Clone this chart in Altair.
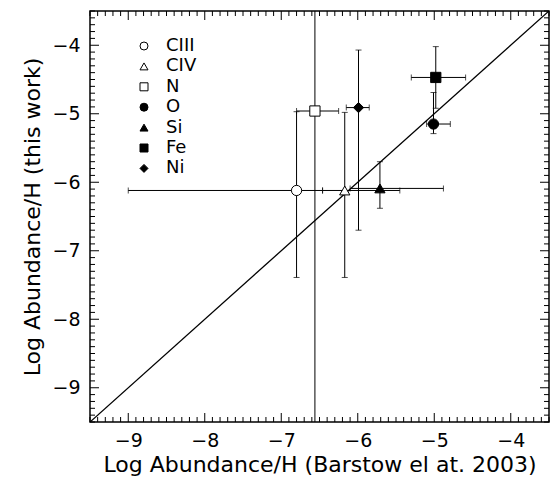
import altair as alt
import pandas as pd

# ---- data ----
elements = ["CIII", "CIV", "N", "O", "Si", "Fe", "Ni"]
x_val = [-6.80, -6.17, -6.56, -5.01, -5.71, -4.98, -5.99]
y_val = [-6.12, -6.12, -4.96, -5.15, -6.09, -4.47, -4.91]
x_lo = [-9.00, -6.46, -6.80, -5.10, -6.10, -5.30, -6.15]
x_hi = [-6.46, -5.45, -6.25, -4.79, -4.88, -4.59, -5.85]
y_lo = [-7.39, -7.39, -10.0, -5.29, -6.38, -4.92, -6.70]
y_hi = [-4.97, -4.98, -3.00, -4.69, -5.70, -4.02, -4.07]
shapes = ["circle", "triangle-up", "square", "circle", "triangle-up", "square", "diamond"]
fills = ["white", "white", "white", "black", "black", "black", "black"]
strokes = ["black"] * 7

major_ticks = [-9, -8, -7, -6, -5, -4]
minor_ticks = [i / 10 for i in range(-95, -34) if i % 10 != 0]
line_ends = [-9.5, -3.5]

W, H = 459, 411
FONT = "DejaVu Sans"
XTITLE = "Log Abundance/H (Barstow el at. 2003)"
YTITLE = "Log Abundance/H (this work)"

df = pd.DataFrame({"el": elements, "x": x_val, "y": y_val,
                   "xlo": x_lo, "xhi": x_hi, "ylo": y_lo, "yhi": y_hi})
diag = pd.DataFrame({"x": line_ends, "y": line_ends})
maj = pd.DataFrame({"v": major_ticks})
mnr = pd.DataFrame({"v": minor_ticks})

xs = alt.Scale(domain=[-9.5, -3.5], nice=False, zero=False)
ys = alt.Scale(domain=[-9.5, -3.5], nice=False, zero=False)
xaxis = alt.Axis(values=major_ticks, ticks=False, domain=False, grid=False,
                 labelPadding=9, titlePadding=4)
yaxis = alt.Axis(values=major_ticks, ticks=False, domain=False, grid=False,
                 labelPadding=10, titlePadding=7)


def X(field):
    return alt.X(field, scale=xs, axis=xaxis, title=XTITLE)


def Y(field):
    return alt.Y(field, scale=ys, axis=yaxis, title=YTITLE)


base = alt.Chart(df)

diag_line = alt.Chart(diag).mark_line(color="black", strokeWidth=1.3, clip=True).encode(
    x=X("x:Q"), y=Y("y:Q"))

xerr = base.mark_rule(color="black", strokeWidth=1, clip=True).encode(
    x=X("xlo:Q"), x2="xhi:Q", y=Y("y:Q"))
yerr = base.mark_rule(color="black", strokeWidth=1, clip=True).encode(
    x=X("x:Q"), y=Y("ylo:Q"), y2="yhi:Q")

cap_xlo = base.mark_tick(orient="vertical", color="black", size=6, thickness=1, clip=True).encode(
    x=X("xlo:Q"), y=Y("y:Q"))
cap_xhi = base.mark_tick(orient="vertical", color="black", size=6, thickness=1, clip=True).encode(
    x=X("xhi:Q"), y=Y("y:Q"))
cap_ylo = base.mark_tick(orient="horizontal", color="black", size=6, thickness=1, clip=True).encode(
    x=X("x:Q"), y=Y("ylo:Q"))
cap_yhi = base.mark_tick(orient="horizontal", color="black", size=6, thickness=1, clip=True).encode(
    x=X("x:Q"), y=Y("yhi:Q"))

leg = alt.Legend(orient="none", legendX=45, legendY=26, symbolStrokeWidth=1,
                 symbolSize=64, title=None)

points = base.mark_point(size=105, strokeWidth=1, opacity=1, filled=False).encode(
    x=X("x:Q"), y=Y("y:Q"),
    shape=alt.Shape("el:N", scale=alt.Scale(domain=elements, range=shapes), title=None, legend=leg),
    fill=alt.Fill("el:N", scale=alt.Scale(domain=elements, range=fills), title=None, legend=leg),
    stroke=alt.Stroke("el:N", scale=alt.Scale(domain=elements, range=strokes), title=None, legend=leg),
)


def xticks(data, length):
    bot = alt.Chart(data).mark_rule(color="black", strokeWidth=1).encode(
        x=X("v:Q"), y=alt.value(H), y2=alt.value(H - length))
    top = alt.Chart(data).mark_rule(color="black", strokeWidth=1).encode(
        x=X("v:Q"), y=alt.value(0), y2=alt.value(length))
    return [bot, top]


def yticks(data, length):
    lft = alt.Chart(data).mark_rule(color="black", strokeWidth=1).encode(
        y=Y("v:Q"), x=alt.value(0), x2=alt.value(length))
    rgt = alt.Chart(data).mark_rule(color="black", strokeWidth=1).encode(
        y=Y("v:Q"), x=alt.value(W), x2=alt.value(W - length))
    return [lft, rgt]


tick_layers = xticks(maj, 9) + xticks(mnr, 5) + yticks(maj, 9) + yticks(mnr, 5)

chart = alt.layer(
    *tick_layers, diag_line, xerr, yerr, cap_xlo, cap_xhi, cap_ylo, cap_yhi, points
).properties(
    width=W, height=H,
    autosize=alt.AutoSizeParams(type="none"),
    padding={"left": 90, "top": 11, "right": 2, "bottom": 64},
    background="white",
).configure_view(
    stroke="black", strokeWidth=1.5
).configure_axis(
    labelFont=FONT, titleFont=FONT, labelFontSize=19, titleFontSize=22,
    labelFontWeight="normal", titleFontWeight="normal", labelColor="black", titleColor="black",
).configure_legend(
    labelFont=FONT, labelFontSize=18, labelFontWeight="normal", labelColor="black",
    symbolSize=64, symbolStrokeWidth=1,
    rowPadding=2.4, padding=0, labelOffset=13, symbolOpacity=1,
)

chart.save("out.html", embed_options={"renderer": "svg", "actions": False})
